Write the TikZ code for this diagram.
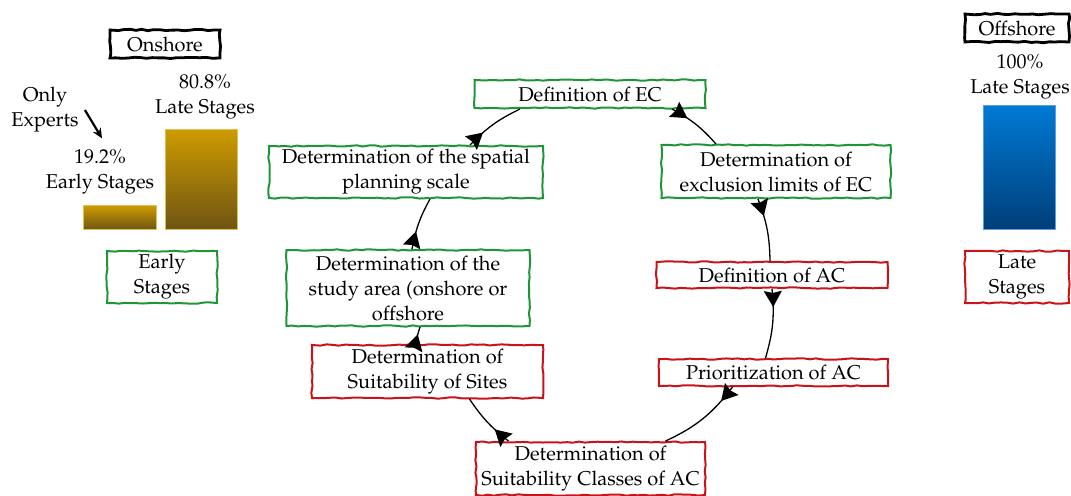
\documentclass[tikz,border=0pt]{standalone}
\usepackage[T1]{fontenc}
\usepackage{mathpazo}
\usetikzlibrary{arrows.meta, positioning, decorations.pathmorphing, decorations.markings, calc}
\definecolor{stagegreen}{RGB}{30,150,55}
\definecolor{stagered}{RGB}{200,20,25}
\definecolor{goldtop}{RGB}{205,155,0}
\definecolor{goldbottom}{RGB}{110,84,20}
\definecolor{goldedge}{RGB}{225,190,90}
\definecolor{bluetop}{RGB}{0,122,212}
\definecolor{bluebottom}{RGB}{0,62,120}
\definecolor{blueedge}{RGB}{90,160,225}
\pgfmathsetseed{7}

\begin{document}
\begin{tikzpicture}[x=0.5pt, y=-0.5pt,
    sketch/.style={decorate, decoration={random steps, segment length=3pt, amplitude=0.35pt}},
    early/.style={rectangle, draw=stagegreen, line width=1pt, sketch, inner sep=0pt, align=center, font=\fontsize{10}{12.5}\selectfont},
    late/.style={early, draw=stagered},
    region/.style={early, draw=black, line width=1.4pt},
    label/.style={align=center, inner sep=0pt, font=\fontsize{10}{12.5}\selectfont},
    bar/.style={rectangle, anchor=south west, inner sep=0pt, line width=0.4pt, minimum width=36pt},
    flow/.style={line width=0.65pt, black, postaction={decorate, decoration={markings, mark=at position #1 with {\arrow{Stealth[length=8pt, width=9pt, inset=1pt]}}}}},
    flow/.default=9pt,
    pointer/.style={-{Stealth[length=5pt, width=4.5pt]}, line width=1.1pt}
]
\useasboundingbox (0,0) rectangle (1071,495);
% onshore share
\node[region, minimum width=55pt, minimum height=14pt] (onshore) at (165,44) {Onshore};
\node[bar, minimum width=36.5pt, minimum height=12pt, top color=goldtop, bottom color=goldbottom, draw=goldedge] (earlybar) at (83,230) {};
\node[bar, minimum height=50pt, top color=goldtop, bottom color=goldbottom, draw=goldedge] (latebar) at (165,230) {};
\node[label] (earlyshare) at (100,172) {19.2\%\\Early Stages};
\node[label] (lateshare) at (205,97) {80.8\%\\Late Stages};
\node[label] (experts) at (45,110) {Only\\Experts};
\draw[pointer] ([shift={(6,0)}]experts.east) -- ([shift={(2,-11)}]earlyshare.north);
\node[early, minimum width=55pt, minimum height=26pt] (earlybox) at (162,277) {Early\\Stages};
% offshore share
\node[region, minimum width=52pt, minimum height=14pt] (offshore) at (1017,28) {Offshore};
\node[label] (offshare) at (1020,77) {100\%\\Late Stages};
\node[bar, minimum height=62pt, top color=bluetop, bottom color=bluebottom, draw=blueedge] (offbar) at (983,230) {};
\node[late, minimum width=52pt, minimum height=26pt] (latebox) at (1017,277) {Late\\Stages};
% cycle
\node[early, minimum width=115.5pt, minimum height=14pt] (ec) at (590,94) {Definition of EC};
\node[early, minimum width=137pt, minimum height=26pt] (scale) at (406,172) {Determination of the spatial\\planning scale};
\node[early, minimum width=114.5pt, minimum height=26.5pt] (limits) at (776,171.5) {Determination of\\exclusion limits of EC};
\node[early, minimum width=121.5pt, minimum height=38pt] (area) at (408,288) {Determination of the\\study area (onshore or\\offshore};
\node[late, minimum width=115.5pt, minimum height=13pt] (ac) at (772,275) {Definition of AC};
\node[late, minimum width=115.5pt, minimum height=26.5pt] (sites) at (427.5,371.5) {Determination of\\Suitability of Sites};
\node[late, minimum width=114.5pt, minimum height=13.5pt] (prio) at (773.5,372.5) {Prioritization of AC};
\node[late, minimum width=114.5pt, minimum height=26.5pt] (classes) at (590.5,468.5) {Determination of\\Suitability Classes of AC};
\draw[flow] ([xshift=41pt]ec.south) to[bend left=10] ([xshift=-30pt]limits.north);
\draw[flow] ([xshift=-9pt]limits.south) to[bend left=10] ([xshift=-1pt]ac.north);
\draw[flow] (ac.south) to[bend left=11] ([xshift=-4pt]prio.north);
\draw[flow] ([xshift=-20.5pt]prio.south) to[bend left=14] ([xshift=37.5pt]classes.north);
\draw[flow] ([xshift=-41pt]classes.north) to[bend left=9] ([xshift=21pt]sites.south);
\draw[flow=5pt] ([xshift=-6pt]sites.north) to[bend left=3] ([xshift=6pt]area.south);
\draw[flow] ([xshift=2pt]area.north) to[bend left=9] ([xshift=12pt]scale.south);
\draw[flow] ([xshift=32pt]scale.north) to[bend left=10] ([xshift=-35pt]ec.south);
\end{tikzpicture}
\end{document}
